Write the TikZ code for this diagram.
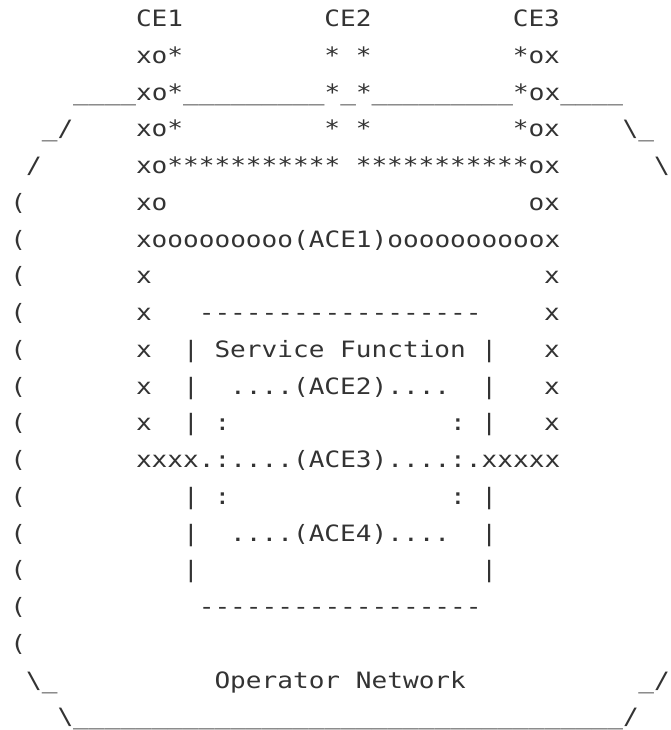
\documentclass[tikz,border=0pt]{standalone}
\usepackage{fontspec}
\newfontfamily\mono[FakeStretch=1.16]{DejaVu Sans Mono}
\definecolor{ink}{HTML}{333333}
\newcommand\dsh{-\kern0pt}
\newcommand\dashrow{\dsh\dsh\dsh\dsh\dsh\dsh\dsh\dsh\dsh\dsh\dsh\dsh\dsh\dsh\dsh\dsh\dsh\dsh}
\newcommand\us{\_}
\newcommand\bs{\textbackslash}
\newcommand\seg[4]{\node[txt] (#1) at ({10.4+15.7*#2},{703.3-36.75*(#3-1)}) {#4};}
\begin{document}
\begin{tikzpicture}[x=1pt,y=1pt,
  txt/.style={anchor=base west,inner sep=0pt,outer sep=0pt,font=\mono\fontsize{22.5}{27}\selectfont,text=ink}]
\useasboundingbox (0,0) rectangle (670,730);
% row 1
\seg{ce1}{8}{1}{CE1}
\seg{ce2}{20}{1}{CE2}
\seg{ce3}{32}{1}{CE3}
% row 2
\seg{r2a}{8}{2}{xo*}
\seg{r2b}{20}{2}{*}
\seg{r2c}{22}{2}{*}
\seg{r2d}{32}{2}{*ox}
% row 3
\seg{r3a}{4}{3}{\us\us\us\us xo*\us\us\us\us\us\us\us\us\us*\us*\us\us\us\us\us\us\us\us\us*ox\us\us\us\us}
% row 4
\seg{r4a}{2}{4}{\us/}
\seg{r4b}{8}{4}{xo*}
\seg{r4c}{20}{4}{*}
\seg{r4d}{22}{4}{*}
\seg{r4e}{32}{4}{*ox}
\seg{r4f}{39}{4}{\bs\us}
% row 5
\seg{r5a}{1}{5}{/}
\seg{r5b}{8}{5}{xo***********}
\seg{r5c}{22}{5}{***********ox}
\seg{r5d}{41}{5}{\bs}
% row 6
\seg{r6a}{0}{6}{(}
\seg{r6b}{8}{6}{xo}
\seg{r6c}{33}{6}{ox}
% row 7
\seg{r7a}{0}{7}{(}
\seg{r7b}{8}{7}{xooooooooo(ACE1)oooooooooox}
% row 8
\seg{r8a}{0}{8}{(}
\seg{r8b}{8}{8}{x}
\seg{r8c}{34}{8}{x}
% row 9
\seg{r9a}{0}{9}{(}
\seg{r9b}{8}{9}{x}
\seg{r9c}{12}{9}{\dashrow}
\seg{r9d}{34}{9}{x}
% row 10
\seg{r10a}{0}{10}{(}
\seg{r10b}{8}{10}{x}
\seg{r10c}{11}{10}{|}
\seg{r10d}{13}{10}{Service Function}
\seg{r10e}{30}{10}{|}
\seg{r10f}{34}{10}{x}
% row 11
\seg{r11a}{0}{11}{(}
\seg{r11b}{8}{11}{x}
\seg{r11c}{11}{11}{|}
\seg{r11d}{14}{11}{....(ACE2)....}
\seg{r11e}{30}{11}{|}
\seg{r11f}{34}{11}{x}
% row 12
\seg{r12a}{0}{12}{(}
\seg{r12b}{8}{12}{x}
\seg{r12c}{11}{12}{|}
\seg{r12d}{13}{12}{:}
\seg{r12e}{28}{12}{:}
\seg{r12f}{30}{12}{|}
\seg{r12g}{34}{12}{x}
% row 13
\seg{r13a}{0}{13}{(}
\seg{r13b}{8}{13}{xxxx.:....(ACE3)....:.xxxxx}
% row 14
\seg{r14a}{0}{14}{(}
\seg{r14b}{11}{14}{|}
\seg{r14c}{13}{14}{:}
\seg{r14d}{28}{14}{:}
\seg{r14e}{30}{14}{|}
% row 15
\seg{r15a}{0}{15}{(}
\seg{r15b}{11}{15}{|}
\seg{r15c}{14}{15}{....(ACE4)....}
\seg{r15d}{30}{15}{|}
% row 16
\seg{r16a}{0}{16}{(}
\seg{r16b}{11}{16}{|}
\seg{r16c}{30}{16}{|}
% row 17
\seg{r17a}{0}{17}{(}
\seg{r17b}{12}{17}{\dashrow}
% row 18
\seg{r18a}{0}{18}{(}
% row 19
\seg{r19a}{1}{19}{\bs\us}
\seg{r19b}{13}{19}{Operator Network}
\seg{r19c}{40}{19}{\us/}
% row 20
\seg{r20a}{3}{20}{\bs\us\us\us\us\us\us\us\us\us\us\us\us\us\us\us\us\us\us\us\us\us\us\us\us\us\us\us\us\us\us\us\us\us\us\us/}
\end{tikzpicture}
\end{document}
